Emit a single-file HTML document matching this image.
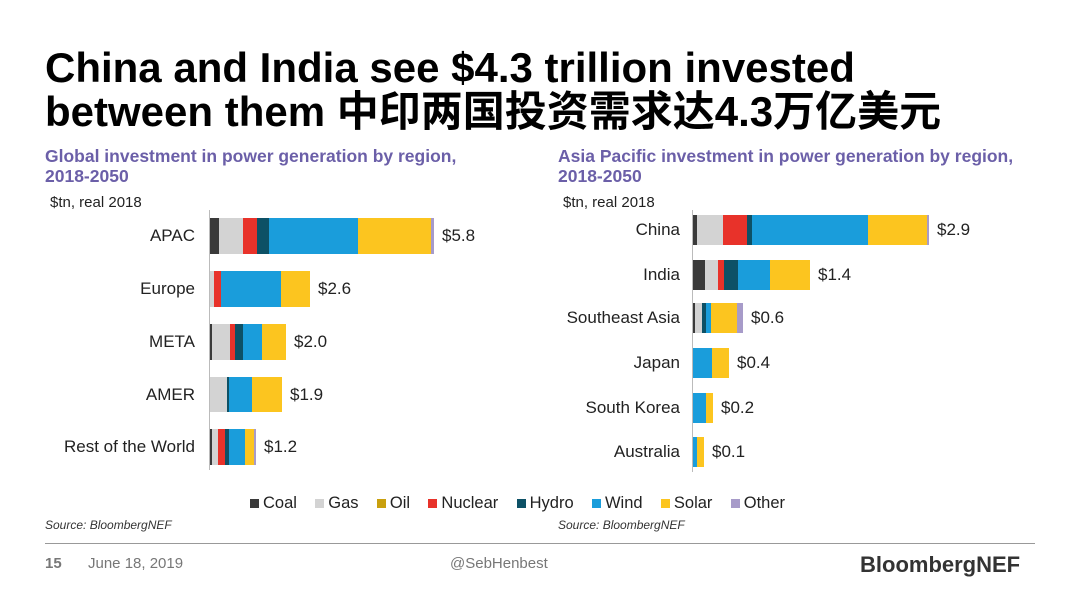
<!DOCTYPE html>
<html><head><meta charset="utf-8"><style>
body{margin:0;width:1080px;height:608px;background:#fff;position:relative;overflow:hidden;font-family:"Liberation Sans","Noto Sans CJK SC",sans-serif;}
.a{position:absolute;white-space:nowrap;}
.t{font-size:42px;font-weight:bold;color:#000;left:45px;line-height:44px;}
.st{font-size:17.5px;font-weight:bold;color:#6b5fa8;line-height:20px;}
.lb{font-size:17px;color:#222;}
.src{font-size:12px;font-style:italic;color:#333;}
.ft{font-size:15px;color:#777;}
.lg{font-size:16.5px;color:#222;}
.sq{display:inline-block;width:9px;height:9px;margin-right:4px;}
</style></head><body>
<div class="a t" style="top:46px">China and India see $4.3 trillion invested</div>
<div class="a t" style="top:90px">between them 中印两国投资需求达4.3万亿美元</div>
<div class="a st" style="left:45px;top:146px">Global investment in power generation by region,<br>2018-2050</div>
<div class="a st" style="left:558px;top:146px">Asia Pacific investment in power generation by region,<br>2018-2050</div>
<div class="a lb" style="left:50px;top:194px;font-size:15px">$tn, real 2018</div>
<div class="a lb" style="left:563px;top:194px;font-size:15px">$tn, real 2018</div>
<div class="a" style="left:209px;top:210px;width:1px;height:260px;background:#bbb"></div>
<div class="a" style="left:692px;top:210px;width:1px;height:262px;background:#bbb"></div>
<div id="bars"></div>
<div class="a lg" style="left:250px;top:494px">
<span class="sq" style="background:#3a3a3a"></span>Coal&nbsp;&nbsp;&nbsp;
<span class="sq" style="background:#d3d3d3"></span>Gas&nbsp;&nbsp;&nbsp;
<span class="sq" style="background:#c9a00e"></span>Oil&nbsp;&nbsp;&nbsp;
<span class="sq" style="background:#e8322a"></span>Nuclear&nbsp;&nbsp;&nbsp;
<span class="sq" style="background:#0d5166"></span>Hydro&nbsp;&nbsp;&nbsp;
<span class="sq" style="background:#1a9ddb"></span>Wind&nbsp;&nbsp;&nbsp;
<span class="sq" style="background:#fcc51f"></span>Solar&nbsp;&nbsp;&nbsp;
<span class="sq" style="background:#a79bc9"></span>Other</div>
<div class="a src" style="left:45px;top:518px">Source: BloombergNEF</div>
<div class="a src" style="left:558px;top:518px">Source: BloombergNEF</div>
<div class="a" style="left:45px;top:543px;width:990px;height:1px;background:#999"></div>
<div class="a ft" style="left:45px;top:555px;font-weight:bold">15</div>
<div class="a ft" style="left:88px;top:555px">June 18, 2019</div>
<div class="a ft" style="left:450px;top:555px">@SebHenbest</div>
<div class="a" style="left:860px;top:552px;font-size:22px;font-weight:bold;color:#333">BloombergNEF</div>
<script>
var C={c:"#3a3a3a",g:"#d3d3d3",n:"#e8322a",h:"#0d5166",w:"#1a9ddb",s:"#fcc51f",o:"#a79bc9"};
var B=[
["APAC",218,36,[["c",210,219],["g",219,243],["n",243,257],["h",257,269],["w",269,358],["s",358,431],["o",431,434]],"$5.8",195],
["Europe",271,36,[["g",210,214],["n",214,221],["w",221,281],["s",281,310]],"$2.6",195],
["META",324,36,[["c",210,212],["g",212,230],["n",230,235],["h",235,243],["w",243,262],["s",262,286]],"$2.0",195],
["AMER",377,35,[["g",210,227],["h",227,229],["w",229,252],["s",252,282]],"$1.9",195],
["Rest of the World",429,36,[["c",210,212],["g",212,218],["n",218,225],["h",225,229],["w",229,245],["s",245,254],["o",254,256]],"$1.2",195],
["China",215,30,[["c",693,697],["g",697,723],["n",723,747],["h",747,752],["w",752,868],["s",868,927],["o",927,929]],"$2.9",680],
["India",260,30,[["c",693,705],["g",705,718],["n",718,724],["h",724,738],["w",738,770],["s",770,810]],"$1.4",680],
["Southeast Asia",303,30,[["c",693,695],["g",695,702],["h",702,706],["w",706,711],["s",711,737],["o",737,743]],"$0.6",680],
["Japan",348,30,[["w",693,712],["s",712,729]],"$0.4",680],
["South Korea",393,30,[["w",693,706],["s",706,713]],"$0.2",680],
["Australia",437,30,[["w",693,697],["s",697,704]],"$0.1",680]];
var h="";
B.forEach(function(b){var y=b[1],H=b[2],end=0;
b[3].forEach(function(s){h+='<div class="a" style="left:'+s[1]+'px;top:'+y+'px;width:'+(s[2]-s[1])+'px;height:'+H+'px;background:'+C[s[0]]+'"></div>';end=s[2];});
h+='<div class="a lb" style="right:'+(1080-b[5])+'px;top:'+(y+H/2-10)+'px;text-align:right">'+b[0]+'</div>';
h+='<div class="a lb" style="left:'+(end+8)+'px;top:'+(y+H/2-10)+'px">'+b[4]+'</div>';});
document.getElementById("bars").innerHTML=h;
</script>
</body></html>
